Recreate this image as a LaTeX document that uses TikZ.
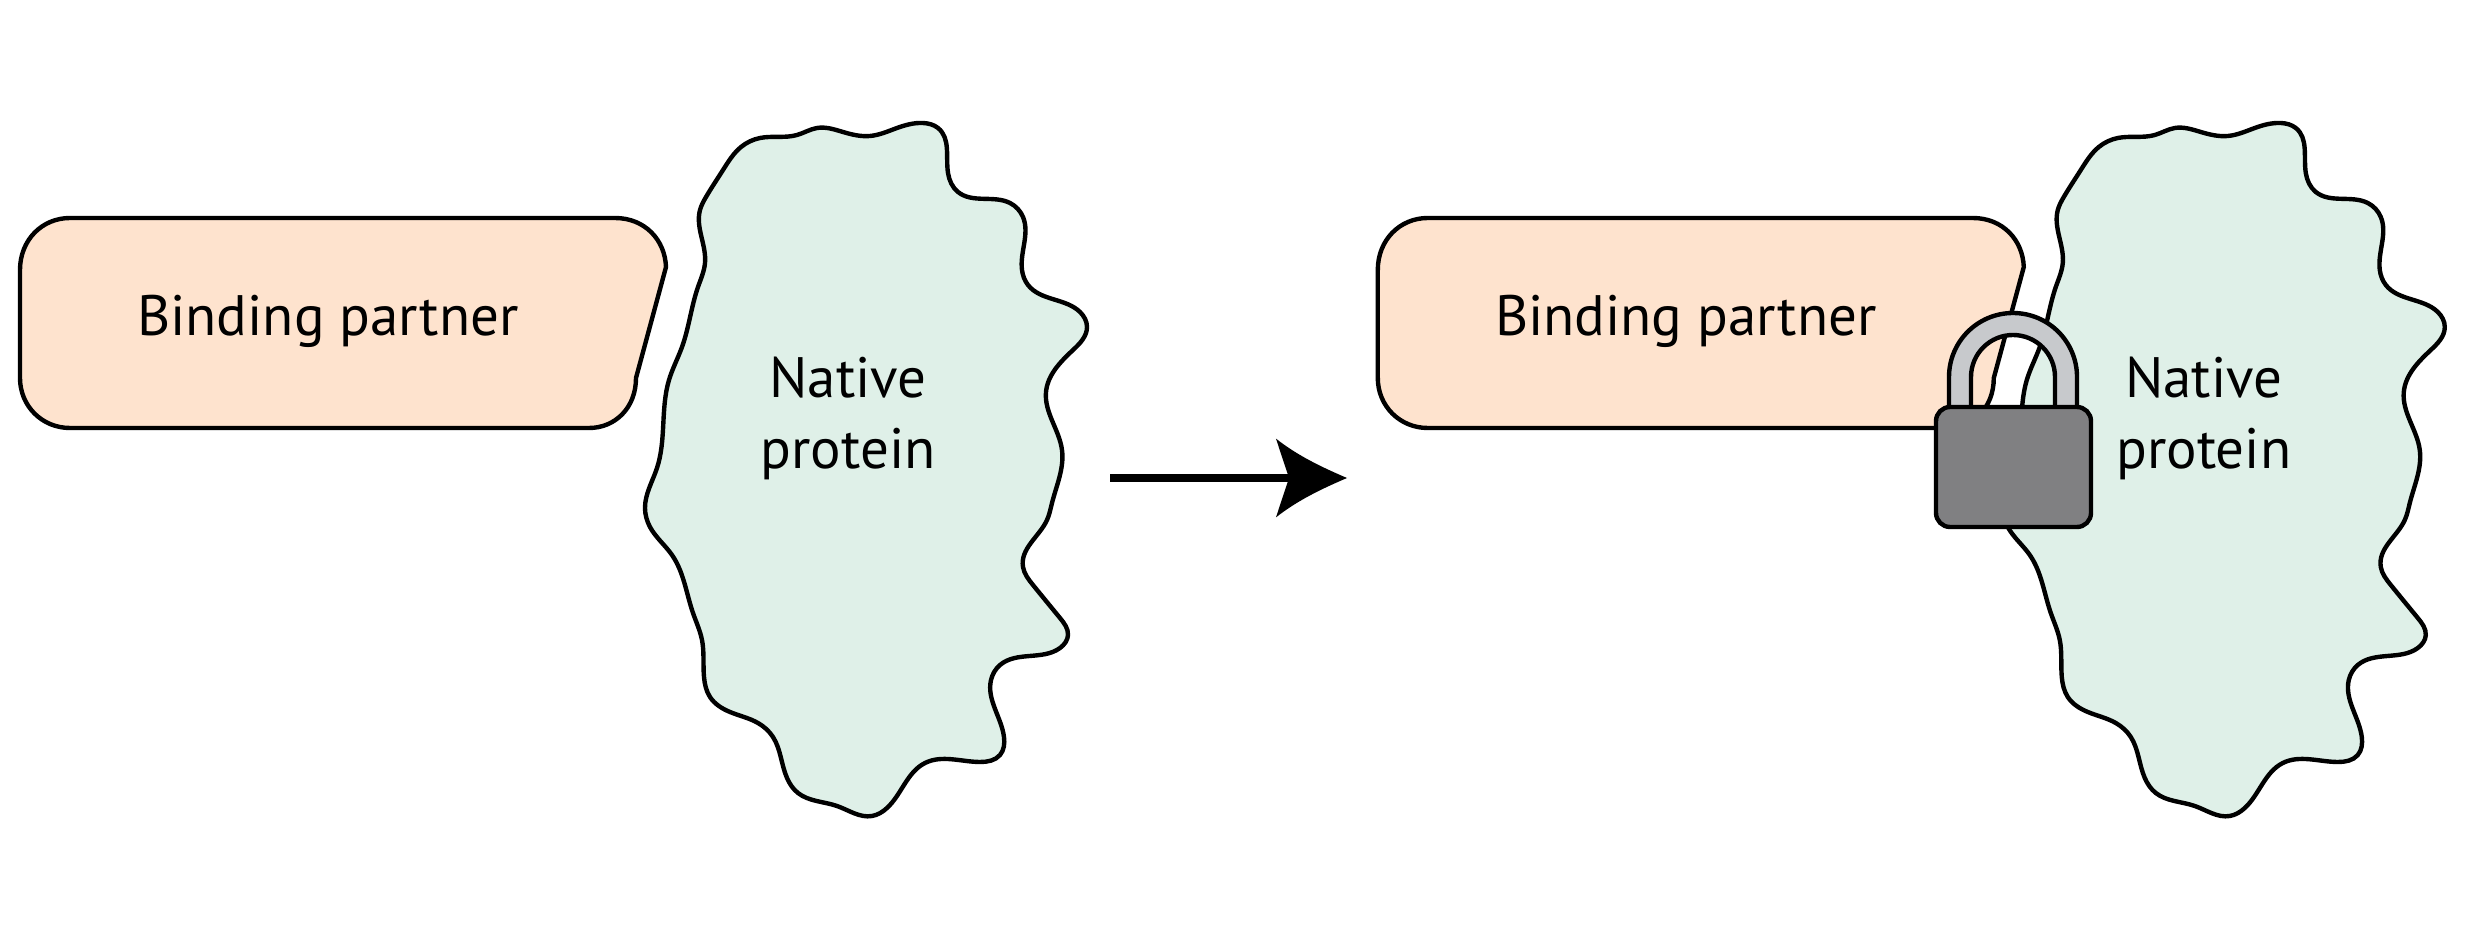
\documentclass[tikz,border=0pt]{standalone}
\usepackage{fontspec}
\setmainfont{PT Sans}
\usepackage{xcolor}
\usetikzlibrary{arrows.meta, hobby}

\definecolor{partnerfill}{HTML}{FEE3CE}
\definecolor{proteinfill}{HTML}{DFF0E8}
\definecolor{lockbody}{HTML}{808082}
\definecolor{lockbar}{HTML}{C7C9CC}

\pgfdeclarearrow{
  name=Swoop,
  setup code={
    \pgfarrowssettipend{0pt}
    \pgfarrowssetlineend{-16pt}
    \pgfarrowssetvisualbackend{-20.2pt}
    \pgfarrowssetbackend{-20.2pt}
  },
  drawing code={
    \pgfpathmoveto{\pgfpoint{0pt}{0pt}}
    \pgfpathcurveto{\pgfpoint{-7pt}{3pt}}{\pgfpoint{-14pt}{6.3pt}}{\pgfpoint{-20.2pt}{11.2pt}}
    \pgfpathlineto{\pgfpoint{-16.5pt}{0pt}}
    \pgfpathlineto{\pgfpoint{-20.2pt}{-11.2pt}}
    \pgfpathcurveto{\pgfpoint{-14pt}{-6.3pt}}{\pgfpoint{-7pt}{-3pt}}{\pgfpoint{0pt}{0pt}}
    \pgfpathclose
    \pgfusepathqfill
  }
}

% outlines, in pixels of the picture
\newcommand{\partneroutline}{(20,270) .. controls (20,240) and (42,218) .. (70,218) -- (615,218)
  .. controls (645,218) and (665,240) .. (666,267) -- (636,378)
  .. controls (636,408) and (615,428) .. (589,428) -- (70,428)
  .. controls (42,428) and (20,406) .. (20,378) -- cycle}
\newcommand{\proteinoutline}{plot[closed hobby] coordinates {
  (700,210) (706,197) (723,170) (741,147) (760,138) (797,135) (817,128) (843,132) (870,136)
  (897,128) (923,123) (938,128) (948,173) (958,192) (1010,203) (1023,217)
  (1022,270) (1028,285) (1080,312) (1087,327) (1073,350) (1046,392)
  (1062,450) (1052,503) (1047,520) (1023,567)
  (1033,585) (1060,618) (1068,635) (1060,648) (1000,665) (991,680)
  (1004,737) (1000,755) (980,762) (925,763) (887,808) (872,816)
  (837,806) (798,793) (787,778) (773,737) (758,723) (730,712) (710,697) (704,677) (702,640) (693,613)
  (672,555) (650,527) (645,508) (657,468) (669,380) (682,347) (698,287)
  (705,263)}}

\begin{document}
\begin{tikzpicture}[
    x=0.01cm, y=-0.01cm,
    outline/.style={draw=black, line width=1.25pt},
    partner/.style={outline, fill=partnerfill},
    protein/.style={outline, fill=proteinfill},
    label/.style={font=\fontsize{16.2}{20.2}\selectfont, align=center, inner sep=0pt},
    bar/.style={outline, fill=lockbar},
    lock/.style={outline, fill=lockbody, rounded corners=4pt}
]
\useasboundingbox (0,0) rectangle (2481,943);

% left pair
\draw[protein] \proteinoutline;
\draw[partner] \partneroutline;
\node[label] (partnerA) at (328,321) {Binding partner};
\node[label] (proteinA) at (848,418) {Native\\protein};

% arrow
\coordinate (arrowstart) at (1110,478);
\coordinate (arrowend) at (1347,478);
\draw[line width=2.3pt, -Swoop] (arrowstart) -- (arrowend);

% right pair
\begin{scope}[xshift=13.57cm]
\draw[protein] \proteinoutline;
\draw[partner] \partneroutline;
\node[label] (partnerB) at (328,321) {Binding partner};
\node[label] (proteinB) at (846,418) {Native\\protein};
\end{scope}

% padlock
\draw[bar] (1949,410) -- (1949,377) arc[start angle=180, end angle=360, radius=64] -- (2077,410) -- (2055,410)
  -- (2055,377) arc[start angle=360, end angle=180, radius=42] -- (1971,410) -- cycle;
\draw[lock] (1936,407) rectangle (2091,527);
\end{tikzpicture}
\end{document}
